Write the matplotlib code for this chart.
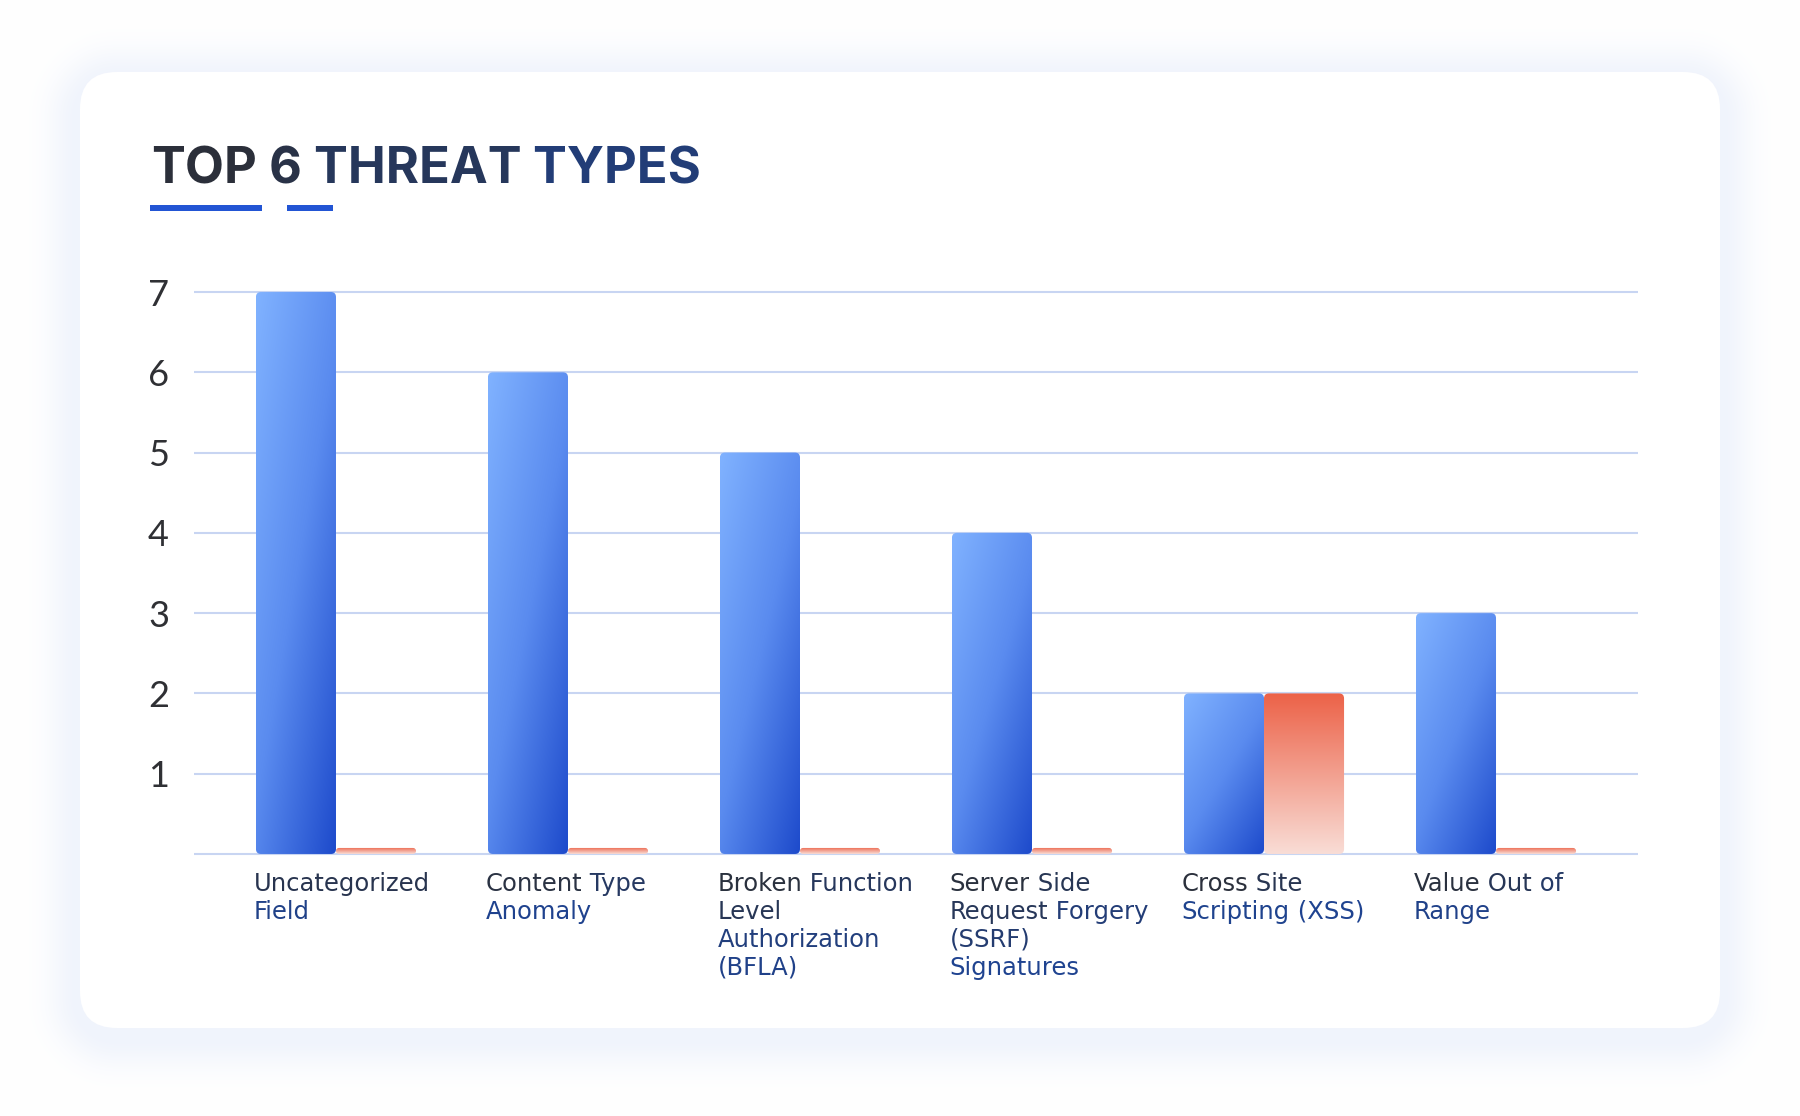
import matplotlib
matplotlib.use("Agg")
import matplotlib.pyplot as plt
import numpy as np
from matplotlib.patches import FancyBboxPatch, Rectangle
from matplotlib.colors import to_rgb
from matplotlib.transforms import blended_transform_factory

# 数据
categories = [
    "Uncategorized\nField",
    "Content Type\nAnomaly",
    "Broken Function\nLevel\nAuthorization\n(BFLA)",
    "Server Side\nRequest Forgery\n(SSRF)\nSignatures",
    "Cross Site\nScripting (XSS)",
    "Value Out of\nRange",
]
blue_values = [7, 6, 5, 4, 2, 3]
red_values = [0, 0, 0, 0, 2, 0]
y_ticks = [1, 2, 3, 4, 5, 6, 7]
title = "TOP 6 THREAT TYPES"

W, H = 1800, 1116
DPI = 100
bar_w = 0.345
stub_h = 0.075  # 0 值也画一条细线

dark = np.array(to_rgb("#2c2e33"))
navy = np.array(to_rgb("#1f4390"))


def mix(t):
    return tuple(dark + (navy - dark) * t)


fig = plt.figure(figsize=(W / DPI, H / DPI), dpi=DPI)
fig.patch.set_facecolor("white")

# 背景 + 卡片阴影
bg = fig.add_axes([0, 0, 1, 1], zorder=0)
card = (80, 72, 1720, 1028)
r = 37
yy, xx = np.mgrid[0:H, 0:W] + 0.5
cx = (card[0] + card[2]) / 2
cy = (card[1] + card[3]) / 2 + 8
hx = (card[2] - card[0]) / 2 - r
hy = (card[3] - card[1]) / 2 - r
qx = np.abs(xx - cx) - hx
qy = np.abs(yy - cy) - hy
d = np.hypot(np.maximum(qx, 0), np.maximum(qy, 0)) + np.minimum(np.maximum(qx, qy), 0) - r
f = np.exp(-np.maximum(d, 0) ** 2 / (2 * 22 ** 2))
shadow = np.array(to_rgb("#f0f4fc"))
img = 1 - (1 - shadow) * f[..., None]
bg.imshow(img, extent=(0, W, H, 0), interpolation="bilinear", aspect="auto", zorder=0)
bg.add_patch(FancyBboxPatch((card[0], card[1]), card[2] - card[0], card[3] - card[1],
                            boxstyle=f"round,pad=0,rounding_size={r}",
                            fc="white", ec="none", zorder=1))
bg.set_xlim(0, W)
bg.set_ylim(H, 0)
bg.axis("off")

# 标题 (逐词上色, 模拟渐变)
words = title.split(" ")
pos = 0
prev = None
for wd in words:
    col = mix(0.85 * (pos + len(wd) / 2) / len(title))
    if prev is None:
        prev = bg.text(151, 183, wd, fontsize=36.5, fontweight="bold", family="Inter",
                       color=col, va="baseline", zorder=5)
    else:
        prev = bg.annotate(" " + wd, xy=(1, 0), xycoords=prev, va="bottom",
                           fontsize=36.5, fontweight="bold", family="Inter",
                           color=col, zorder=5)
    pos += len(wd) + 1

bg.add_patch(Rectangle((150, 205), 112, 6, fc="#2255d4", ec="none", zorder=5))
bg.add_patch(Rectangle((287, 205), 46, 6, fc="#2255d4", ec="none", zorder=5))

# 主图
ax = fig.add_axes([194 / W, (H - 862) / H, (1638 - 194) / W, (862 - 284) / H], zorder=1)
ax.set_facecolor("none")
xl = (-0.612, 5.612)
ax.set_xlim(*xl)
ax.set_ylim(-0.1, 7.1)
sx = 1444 / (xl[1] - xl[0])
sy = 578 / 7.2

grid_c = "#c8d5f2"
ax.set_yticks(y_ticks)
ax.set_yticklabels([str(v) for v in y_ticks], fontsize=26, family="Lato",
                   color="#2f3034")
ax.tick_params(axis="y", length=0, pad=18)
ax.set_xticks([])
ax.yaxis.grid(True, color=grid_c, lw=1.5)
ax.set_axisbelow(True)
ax.axhline(0, color=grid_c, lw=1.5, zorder=1)
for s in ax.spines.values():
    s.set_visible(False)

u = np.linspace(0, 1, 40)[None, :]
v = np.linspace(0, 1, 160)[:, None]
tb = np.clip(0.45 * u + 0.55 * v, 0, 1)
c0, c1, c2 = (np.array(to_rgb(c)) for c in ("#80b2ff", "#5a8bef", "#1d4acb"))
blue_grad = np.where((tb < 0.5)[..., None],
                     c0 + (c1 - c0) * (tb / 0.5)[..., None],
                     c1 + (c2 - c1) * ((tb - 0.5) / 0.5)[..., None])
o0, o1 = np.array(to_rgb("#ec6248")), np.array(to_rgb("#f9ddd6"))
tv = np.repeat(v, 40, axis=1)
red_grad = o0 + (o1 - o0) * tv[..., None]


def grad_bar(x0, height, grad):
    rad = min(5, height * sy / 2) / sx
    patch = FancyBboxPatch((x0, 0), bar_w, height,
                           boxstyle=f"round,pad=0,rounding_size={rad}",
                           mutation_aspect=sx / sy, fc="none", ec="none")
    ax.add_patch(patch)
    im = ax.imshow(grad, extent=(x0, x0 + bar_w, 0, height), aspect="auto",
                   interpolation="bilinear", zorder=3)
    im.set_clip_path(patch)


for i, (b, o) in enumerate(zip(blue_values, red_values)):
    grad_bar(i - bar_w, b, blue_grad)
    grad_bar(i, max(o, stub_h), red_grad)

ax.set_xlim(*xl)
ax.set_ylim(-0.1, 7.1)

# 分类标签
lab_tf = blended_transform_factory(ax.transData, bg.transData)
for i, cat in enumerate(categories):
    lines = cat.split("\n")
    n = len(lines)
    longest = max(len(l) for l in lines)
    for j, line in enumerate(lines):
        yfrac = j / (n - 1) if n > 1 else 0
        pos = 0
        prev = None
        for wd in line.split(" "):
            xfrac = (pos + len(wd) / 2) / longest
            col = mix(min(1, 0.6 * xfrac + 0.8 * yfrac))
            if prev is None:
                prev = bg.text(i - bar_w - 0.01, 891 + 28 * j, wd, transform=lab_tf,
                               fontsize=17.5, family="DejaVu Sans", color=col,
                               va="baseline", zorder=5)
            else:
                prev = bg.annotate(" " + wd, xy=(1, 0), xycoords=prev, va="bottom",
                                   fontsize=17.5, family="DejaVu Sans", color=col, zorder=5)
            pos += len(wd) + 1

fig.savefig("out.png", dpi=DPI)
